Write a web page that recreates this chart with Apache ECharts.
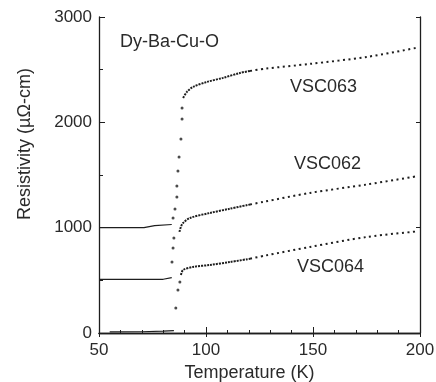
<!DOCTYPE html>
<html>
<head>
<meta charset="utf-8">
<script src="https://cdn.jsdelivr.net/npm/echarts@6/dist/echarts.min.js"></script>
<style>
  html, body { margin: 0; padding: 0; background: #fff; }
  #chart { width: 436px; height: 382px; }
</style>
</head>
<body>
<div id="chart"></div>
<script>
// temperature (K), resistivity (µΩ-cm) pairs
const xTicks = [50, 100, 150, 200]
const yTicks = [0, 1000, 2000, 3000]

const vsc063Flat = [[55, 10], [70, 12], [80, 18], [85, 22]]
const vsc063Drop = [
  [85.9, 237], [86.9, 408], [87.8, 484], [84.1, 674], [84.6, 807], [85.0, 902],
  [84.6, 1092], [85.5, 1178], [86.4, 1291], [86.4, 1396], [86.9, 1538],
  [87.4, 1671], [88.3, 1842], [88.8, 2032], [88.8, 2137],
]
const vsc063Near = [[89.3, 2232], [91.1, 2289], [93.9, 2336], [100.5, 2384], [107.9, 2422], [115.9, 2469], [120.6, 2488]]
const vsc063Far = [[120.6, 2488], [128, 2510], [148.6, 2555], [175.2, 2621], [199, 2710]]

const vsc062Flat = [[50, 1000], [71, 1000], [76, 1020], [84, 1030]]
const vsc062Near = [[87.6, 960], [88.3, 1010], [89.3, 1045], [92.5, 1092], [101.9, 1140], [111.2, 1180], [120.6, 1220]]
const vsc062Far = [[120.6, 1220], [126.6, 1244], [148.6, 1330], [175.2, 1410], [199, 1490]]

const vsc064Flat = [[50, 510], [80, 510], [84, 525]]
const vsc064Near = [[88.3, 551], [89.3, 598], [93.9, 627], [101.9, 646], [111.2, 674], [120.6, 705]]
const vsc064Far = [[120.6, 705], [127.6, 735], [148.6, 817], [175.2, 912], [199, 965]]

const ink = '#1e1e1e'
const textInk = '#2a2a2a'
const font = '"Liberation Sans", Arial, sans-serif'

function flatLine(data) {
  return {
    type: 'line', data, symbol: 'none', silent: true,
    lineStyle: { color: ink, width: 1.2 },
  }
}

function dottedLine(data, dash) {
  return {
    type: 'line', data, symbol: 'none', silent: true, smooth: 0.3,
    lineStyle: { color: ink, width: 2, type: dash },
  }
}

function dropDots(data) {
  return {
    type: 'scatter', data, symbolSize: 3, silent: true,
    itemStyle: { color: ink },
  }
}

const axisLine = { lineStyle: { color: ink, width: 1.3 } }
const tickLabel = { color: textInk, fontSize: 17, fontFamily: font, formatter: (v) => String(v) }

const chart = echarts.init(document.getElementById('chart'), null, { renderer: 'canvas' })

chart.setOption({
  animation: false,
  backgroundColor: '#fff',
  grid: { left: 99, right: 16, top: 17, bottom: 49, outerBoundsMode: 'none' },
  xAxis: [
    {
      type: 'value', min: xTicks[0], max: xTicks[xTicks.length - 1], interval: 50,
      name: 'Temperature (K)', nameLocation: 'middle', nameGap: 29,
      nameTextStyle: { color: textInk, fontSize: 18, fontFamily: font, padding: [0, 20, 0, 0] },
      axisLine, splitLine: { show: false },
      axisTick: { inside: true, length: 6, lineStyle: { color: ink } },
      minorTick: { show: true, splitNumber: 5, length: 3, lineStyle: { color: ink } },
      axisLabel: { ...tickLabel, margin: 9 },
    },
    {
      type: 'value', min: 50, max: 200, interval: 50, position: 'top',
      axisLine, splitLine: { show: false }, axisLabel: { show: false },
      axisTick: { inside: true, length: 4, lineStyle: { color: ink } },
    },
  ],
  yAxis: [
    {
      type: 'value', min: yTicks[0], max: yTicks[yTicks.length - 1], interval: 1000,
      axisLine, splitLine: { show: false },
      axisTick: { inside: true, length: 6, lineStyle: { color: ink } },
      minorTick: { show: true, splitNumber: 2, length: 4, lineStyle: { color: ink } },
      axisLabel: { ...tickLabel, margin: 7 },
    },
    {
      type: 'value', min: 0, max: 3000, interval: 1000, position: 'right',
      axisLine, splitLine: { show: false }, axisLabel: { show: false },
      axisTick: { inside: true, length: 4, lineStyle: { color: ink } },
    },
  ],
  series: [
    flatLine(vsc063Flat),
    dropDots(vsc063Drop),
    dottedLine(vsc063Near, [2, 1]),
    dottedLine(vsc063Far, [2, 3.5]),
    flatLine(vsc062Flat),
    dottedLine(vsc062Near, [2, 1]),
    dottedLine(vsc062Far, [2, 3.5]),
    flatLine(vsc064Flat),
    dottedLine(vsc064Near, [2, 1]),
    dottedLine(vsc064Far, [2, 3.5]),
  ],
  graphic: [
    {
      type: 'text', x: 25, y: 144, rotation: Math.PI / 2,
      style: { text: 'Resistivity (µΩ-cm)', fill: textInk, font: '18px ' + font, align: 'center', verticalAlign: 'middle' },
    },
    { type: 'text', left: 120, top: 33, style: { text: 'Dy-Ba-Cu-O', fill: textInk, font: '18px ' + font } },
    { type: 'text', left: 290, top: 78, style: { text: 'VSC063', fill: textInk, font: '18px ' + font } },
    { type: 'text', left: 294, top: 155, style: { text: 'VSC062', fill: textInk, font: '18px ' + font } },
    { type: 'text', left: 297, top: 258, style: { text: 'VSC064', fill: textInk, font: '18px ' + font } },
  ],
})
</script>
</body>
</html>
